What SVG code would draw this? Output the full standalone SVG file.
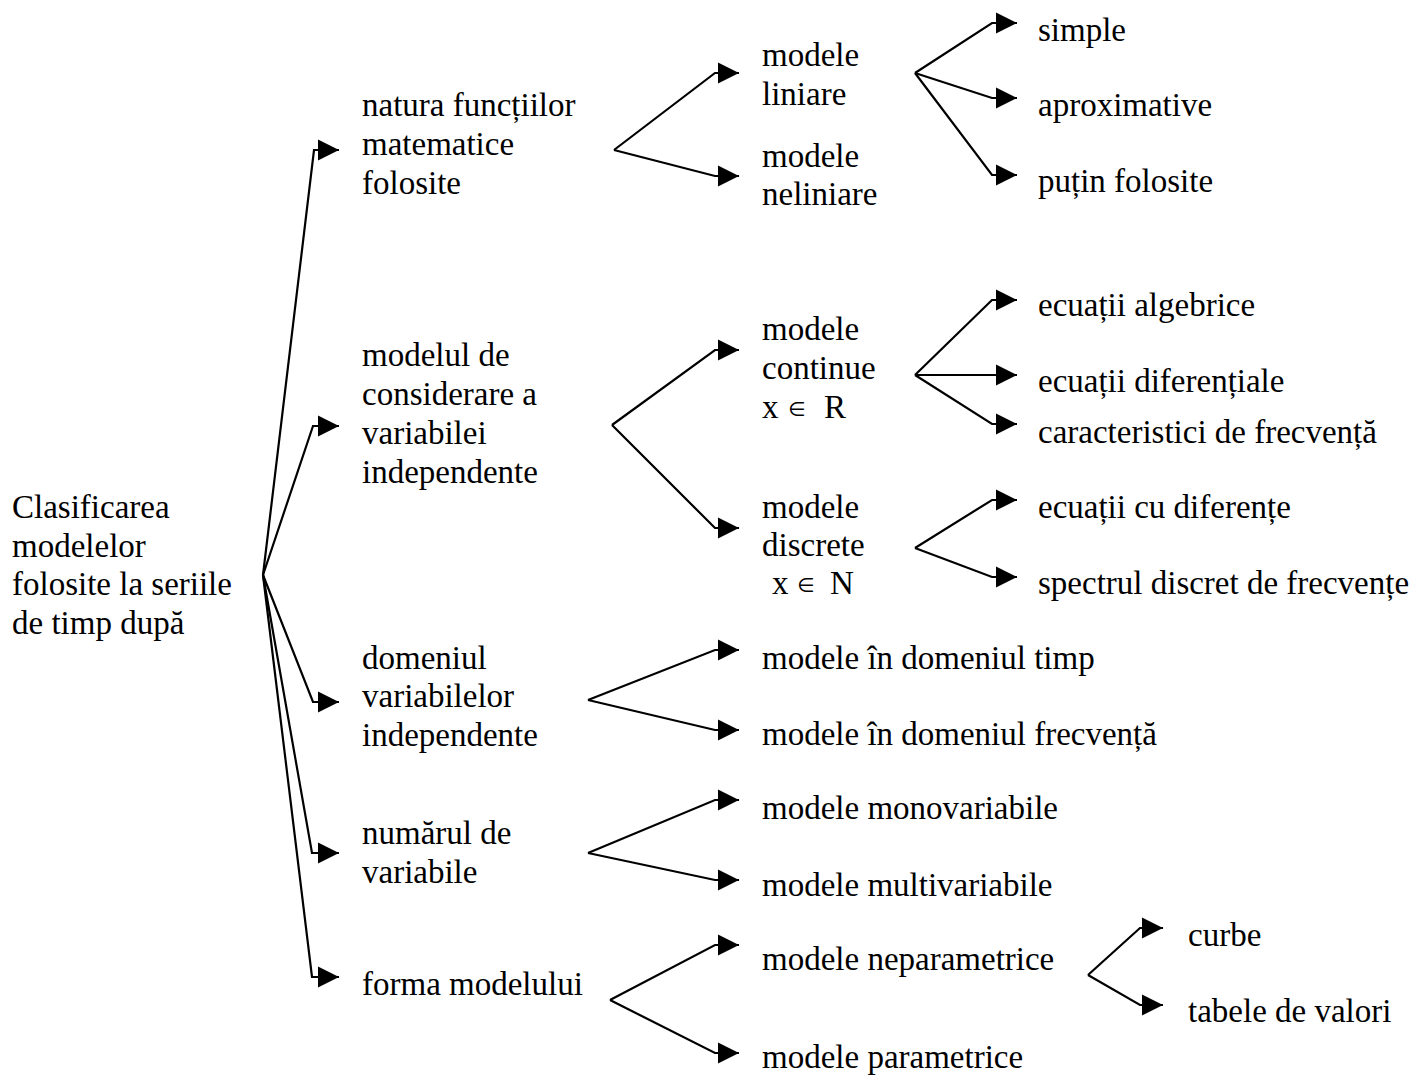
<svg xmlns="http://www.w3.org/2000/svg" width="1416" height="1076" viewBox="0 0 1416 1076">
  <defs>
    <marker id="arrow" markerUnits="userSpaceOnUse" markerWidth="24" markerHeight="22" refX="22" refY="11" orient="auto">
      <path d="M1,0.5 L22,11 L1,21.5 Z" fill="#000"/>
    </marker>
    <style>
      text { font-family: "Liberation Serif", "Times New Roman", serif; font-size: 33px; fill: #000; }
      .sym { font-family: "DejaVu Sans", sans-serif; font-size: 20px; }
      .c { fill: none; stroke: #000; stroke-width: 2.2; marker-end: url(#arrow); }
    </style>
  </defs>
  <rect width="1416" height="1076" fill="#fff"/>

  <g id="connectors">
    <!-- root fan -->
    <polyline class="c" points="263,575 314,150 339,150"/>
    <polyline class="c" points="263,575 313,426 339,426"/>
    <polyline class="c" points="263,575 313,702 339,702"/>
    <polyline class="c" points="263,575 312,853 339,853"/>
    <polyline class="c" points="263,575 312,977 339,977"/>
    <!-- natura functiilor -->
    <polyline class="c" points="614,150 715,73 739,73"/>
    <polyline class="c" points="614,150 715,176 739,176"/>
    <!-- modelul de considerare -->
    <polyline class="c" points="612,425 715,350 739,350"/>
    <polyline class="c" points="612,425 715,528 739,528"/>
    <!-- domeniul -->
    <polyline class="c" points="588,700 715,650 739,650"/>
    <polyline class="c" points="588,700 715,730 739,730"/>
    <!-- numarul -->
    <polyline class="c" points="588,853 715,800 739,800"/>
    <polyline class="c" points="588,853 715,880 739,880"/>
    <!-- forma -->
    <polyline class="c" points="610,1000 715,945 739,945"/>
    <polyline class="c" points="610,1000 715,1053 739,1053"/>
    <!-- modele liniare -->
    <polyline class="c" points="915,73 992,23 1017,23"/>
    <polyline class="c" points="915,73 992,98 1017,98"/>
    <polyline class="c" points="915,73 992,175 1017,175"/>
    <!-- modele continue -->
    <polyline class="c" points="915,375 992,300 1017,300"/>
    <polyline class="c" points="915,375 1017,375"/>
    <polyline class="c" points="915,375 992,424 1017,424"/>
    <!-- modele discrete -->
    <polyline class="c" points="915,548 992,500 1017,500"/>
    <polyline class="c" points="915,548 992,577 1017,577"/>
    <!-- modele neparametrice -->
    <polyline class="c" points="1088,975 1140,928 1163,928"/>
    <polyline class="c" points="1088,975 1140,1005 1163,1005"/>
  </g>

  <g id="root">
    <text x="12" y="518">Clasificarea</text>
    <text x="12" y="557">modelelor</text>
    <text x="12" y="595">folosite la seriile</text>
    <text x="12" y="634">de timp după</text>
  </g>

  <g id="natura">
    <text x="362" y="116">natura funcțiilor</text>
    <text x="362" y="155">matematice</text>
    <text x="362" y="194">folosite</text>
  </g>
  <g id="modelul">
    <text x="362" y="366">modelul de</text>
    <text x="362" y="405">considerare a</text>
    <text x="362" y="444">variabilei</text>
    <text x="362" y="483">independente</text>
  </g>
  <g id="domeniul">
    <text x="362" y="669">domeniul</text>
    <text x="362" y="707">variabilelor</text>
    <text x="362" y="746">independente</text>
  </g>
  <g id="numarul">
    <text x="362" y="844">numărul de</text>
    <text x="362" y="883">variabile</text>
  </g>
  <g id="forma">
    <text x="362" y="995">forma modelului</text>
  </g>

  <g id="liniare">
    <text x="762" y="66">modele</text>
    <text x="762" y="105">liniare</text>
  </g>
  <g id="neliniare">
    <text x="762" y="167">modele</text>
    <text x="762" y="205">neliniare</text>
  </g>
  <g id="continue">
    <text x="762" y="340">modele</text>
    <text x="762" y="379">continue</text>
    <text x="762" y="418">x<tspan class="sym" x="788" y="416">∈</tspan><tspan x="824" y="418">R</tspan></text>
  </g>
  <g id="discrete">
    <text x="762" y="518">modele</text>
    <text x="762" y="556">discrete</text>
    <text x="772" y="594">x<tspan class="sym" x="797" y="592">∈</tspan><tspan x="830" y="594">N</tspan></text>
  </g>
  <g id="timp"><text x="762" y="669">modele în domeniul timp</text></g>
  <g id="frecventa"><text x="762" y="745">modele în domeniul frecvență</text></g>
  <g id="monovariabile"><text x="762" y="819">modele monovariabile</text></g>
  <g id="multivariabile"><text x="762" y="896">modele multivariabile</text></g>
  <g id="neparametrice"><text x="762" y="970">modele neparametrice</text></g>
  <g id="parametrice"><text x="762" y="1068">modele parametrice</text></g>

  <g id="simple"><text x="1038" y="41">simple</text></g>
  <g id="aproximative"><text x="1038" y="116">aproximative</text></g>
  <g id="putin"><text x="1038" y="192">puțin folosite</text></g>
  <g id="algebrice"><text x="1038" y="316">ecuații algebrice</text></g>
  <g id="diferentiale"><text x="1038" y="392">ecuații diferențiale</text></g>
  <g id="caracteristici"><text x="1038" y="443">caracteristici de frecvență</text></g>
  <g id="diferente"><text x="1038" y="518">ecuații cu diferențe</text></g>
  <g id="spectrul"><text x="1038" y="594">spectrul discret de frecvențe</text></g>
  <g id="curbe"><text x="1188" y="946">curbe</text></g>
  <g id="tabele"><text x="1188" y="1022">tabele de valori</text></g>
</svg>
